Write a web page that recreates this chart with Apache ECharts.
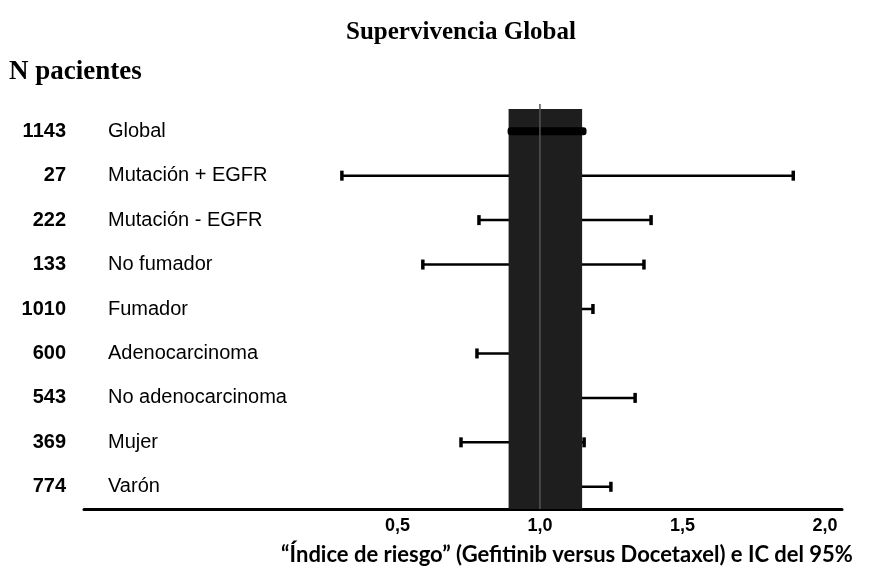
<!DOCTYPE html>
<html>
<head>
<meta charset="utf-8">
<script src="https://cdn.jsdelivr.net/npm/echarts@6/dist/echarts.min.js"></script>
<style>html,body{margin:0;padding:0;background:#fff;}#c{width:871px;height:585px;}</style>
</head>
<body>
<div id="c"></div>
<script>
// ---- data ----
const categories = ["Global","Mutación + EGFR","Mutación - EGFR","No fumador","Fumador","Adenocarcinoma","No adenocarcinoma","Mujer","Varón"];
const nPatients = ["1143","27","222","133","1010","600","543","369","774"];
const ciLow  = [0.89, 0.305, 0.786, 0.589, 0.92, 0.779, 0.93, 0.723, 0.93];
const ciHigh = [1.16, 1.889, 1.390, 1.365, 1.186, 1.10, 1.334, 1.155, 1.249];
const globalBand = [0.89, 1.148];
const tickValues = [0.5, 1.0, 1.5, 2.0];
const tickLabels = ["0,5","1,0","1,5","2,0"];

const chart = echarts.init(document.getElementById('c'));
const barData = categories.map((c,i)=>[i, ciLow[i], ciHigh[i]]);

chart.setOption({
  animation:false,
  graphic:[
    {type:'text', x:461, y:33, style:{text:'Supervivencia Global', font:'bold 25px "Liberation Serif"', fill:'#000', align:'center', verticalAlign:'middle'}},
    {type:'text', x:9, y:72, style:{text:'N pacientes', font:'bold 27px "Liberation Serif"', fill:'#000', align:'left', verticalAlign:'middle'}},
    {type:'text', x:567, y:555, style:{text:'“Índice de riesgo” (Gefitinib versus Docetaxel) e IC del 95%', font:'bold 22px Lato', fill:'#000', align:'center', verticalAlign:'middle'}}
  ],
  grid:{left:84, right:29, top:109, bottom:76},
  xAxis:{
    type:'value', min:-0.6, max:2.06,
    axisLine:{show:true, lineStyle:{color:'#000', width:3}},
    axisTick:{show:false},
    splitLine:{show:false},
    axisLabel:{
      customValues: tickValues,
      margin:8,
      color:'#000',
      fontFamily:'Liberation Sans', fontWeight:'bold', fontSize:18,
      formatter:(v)=>{const k=tickValues.findIndex(t=>Math.abs(t-v)<1e-6);return k>=0?tickLabels[k]:'';}
    }
  },
  yAxis:[
    {type:'category', data:nPatients, inverse:true, position:'left',
     axisLine:{show:false}, axisTick:{show:false}, splitLine:{show:false},
     axisLabel:{margin:18, align:'right', color:'#000', fontFamily:'Liberation Sans', fontWeight:'bold', fontSize:20}},
    {type:'category', data:categories, inverse:true, position:'left',
     axisLine:{show:false}, axisTick:{show:false}, splitLine:{show:false},
     axisLabel:{inside:true, margin:24, align:'left', color:'#000', fontFamily:'Liberation Sans', fontSize:20}}
  ],
  series:[
    {
      type:'custom', z:2, yAxisIndex:0,
      data: barData.slice(1),
      renderItem:(params, api)=>{
        const i = api.value(0);
        const p1 = api.coord([api.value(1), i]);
        const p2 = api.coord([api.value(2), i]);
        const h = 10;
        const st = {stroke:'#000', lineWidth:2.5};
        return {type:'group', children:[
          {type:'line', shape:{x1:p1[0], y1:p1[1], x2:p2[0], y2:p2[1]}, style:st},
          {type:'line', shape:{x1:p1[0], y1:p1[1]-h/2, x2:p1[0], y2:p1[1]+h/2}, style:{stroke:'#000', lineWidth:3.5}},
          {type:'line', shape:{x1:p2[0], y1:p2[1]-h/2, x2:p2[0], y2:p2[1]+h/2}, style:{stroke:'#000', lineWidth:3.5}}
        ]};
      }
    },
    {
      type:'custom', z:3, yAxisIndex:0,
      data:[globalBand],
      renderItem:(params, api)=>{
        const cs = params.coordSys;
        const a = api.coord([api.value(0), 0]);
        const b = api.coord([api.value(1), 0]);
        return {type:'rect', shape:{x:a[0], y:cs.y, width:b[0]-a[0], height:cs.height}, style:{fill:'#1e1e1e'}};
      }
    },
    {
      type:'custom', z:4, yAxisIndex:0,
      data: barData.slice(0,1),
      renderItem:(params, api)=>{
        const i = api.value(0);
        const p1 = api.coord([api.value(1), i]);
        const p2 = api.coord([api.value(2), i]);
        const c1 = api.coord([1.0, i]);
        const cs = params.coordSys;
        return {type:'group', children:[
          {type:'rect', shape:{x:p1[0]-1, y:p1[1]-4, width:p2[0]-p1[0]+2, height:8, r:3}, style:{fill:'#000'}},
          {type:'line', shape:{x1:c1[0], y1:cs.y-5, x2:c1[0], y2:cs.y+cs.height}, style:{stroke:'#555', lineWidth:1.5}}
        ]};
      }
    }
  ]
});
</script>
</body>
</html>
